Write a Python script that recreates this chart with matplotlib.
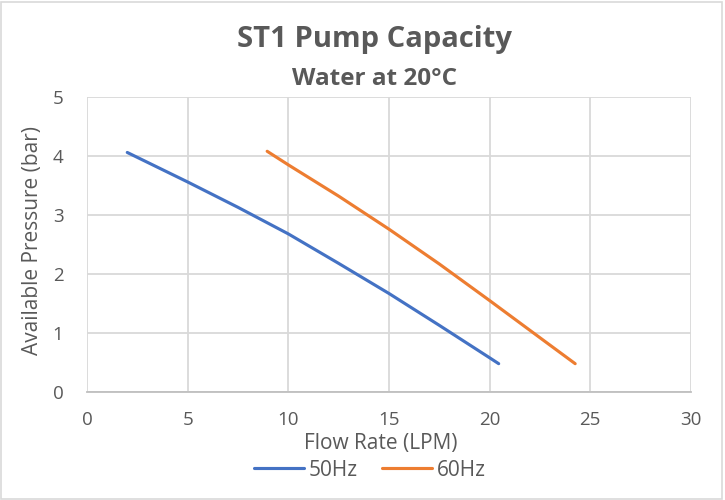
import matplotlib
matplotlib.use("Agg")
import matplotlib.pyplot as plt
from matplotlib.patches import Rectangle

flow_50 = [2.0, 5.0, 7.5, 10.0, 12.5, 15.0, 17.5, 20.0, 20.45]
press_50 = [4.06, 3.56, 3.13, 2.68, 2.18, 1.67, 1.13, 0.58, 0.48]
flow_60 = [8.95, 10.0, 12.5, 15.0, 17.5, 20.0, 22.5, 24.25]
press_60 = [4.08, 3.85, 3.32, 2.76, 2.17, 1.55, 0.92, 0.48]

x_ticks = [0, 5, 10, 15, 20, 25, 30]
y_ticks = [0, 1, 2, 3, 4, 5]

BLUE = "#4472C4"
ORANGE = "#ED7D31"
GRID = "#D9D9D9"
TXT = "#595959"

plt.rcParams["font.family"] = ["Open Sans", "DejaVu Sans"]

fig = plt.figure(figsize=(7.25, 5), dpi=100)
ax = fig.add_axes([0.12, 0.216, 0.833, 0.59])

ax.plot(flow_50, press_50, color=BLUE, linewidth=2.25, label="50Hz",
        solid_capstyle="round", solid_joinstyle="round")
ax.plot(flow_60, press_60, color=ORANGE, linewidth=2.25, label="60Hz",
        solid_capstyle="round", solid_joinstyle="round")

ax.set_xlim(0, 30)
ax.set_ylim(0, 5)
ax.set_xticks(x_ticks)
ax.set_yticks(y_ticks)
ax.grid(True, color=GRID, linewidth=1.3)
ax.set_axisbelow(True)
for s in ax.spines.values():
    s.set_visible(False)
ax.spines["bottom"].set_visible(True)
ax.spines["bottom"].set_color("#BFBFBF")
ax.spines["bottom"].set_linewidth(1.3)
ax.tick_params(length=0, labelsize=13.5, labelcolor=TXT)
ax.tick_params(axis="x", pad=14)
ax.tick_params(axis="y", pad=17)

ax.set_xlabel("Flow Rate (LPM)", fontsize=15, color=TXT)
ax.set_ylabel("Available Pressure (bar)", fontsize=15, color=TXT)
ax.xaxis.set_label_coords(0.486, -0.139)
ax.yaxis.set_label_coords(-0.073, 0.515)

fig.text(0.517, 0.92, "ST1 Pump Capacity", ha="center", va="center",
         fontsize=21, fontweight="bold", color=TXT)
fig.text(0.517, 0.842, "Water at 20°C", ha="center", va="center",
         fontsize=17.5, fontweight="bold", color=TXT)

ax.legend(loc="center", bbox_to_anchor=(0.51, 0.06), bbox_transform=fig.transFigure,
          ncol=2, frameon=False, fontsize=15, handlelength=2.4,
          handletextpad=0.25, columnspacing=1.15, labelcolor=TXT,
          borderpad=0)

fig.patches.append(Rectangle((0.002, 0.003), 0.994, 0.993, transform=fig.transFigure,
                             fill=False, edgecolor=GRID, linewidth=1.2))

fig.savefig("out.png", dpi=100)
